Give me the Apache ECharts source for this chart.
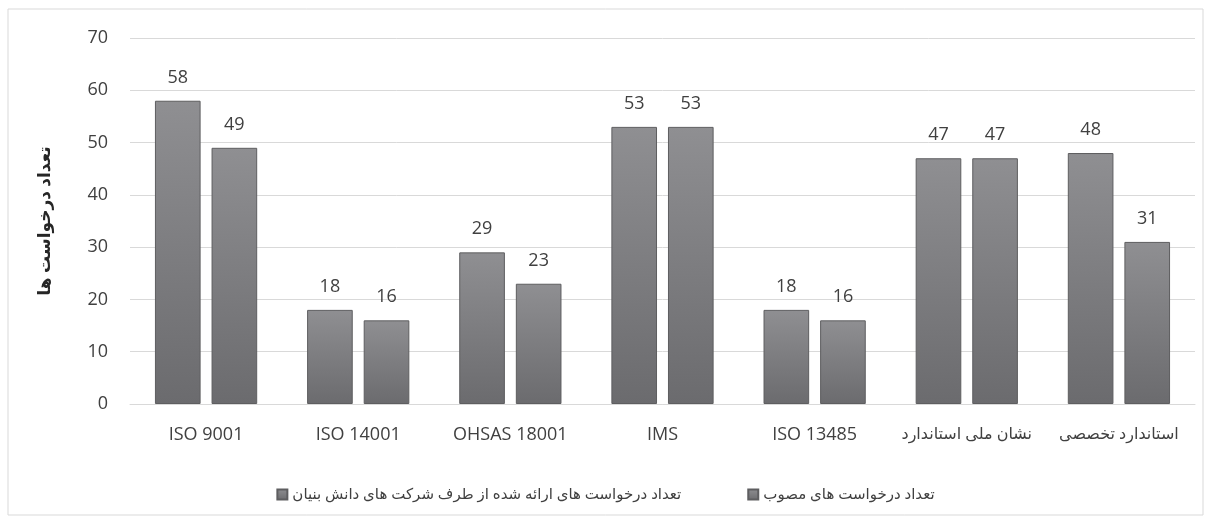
<!DOCTYPE html>
<html>
<head>
<meta charset="utf-8">
<script src="https://cdn.jsdelivr.net/npm/echarts@6/dist/echarts.min.js"></script>
<style>
  html, body { margin: 0; padding: 0; background: #fff; }
  #chart { width: 1211px; height: 522px; }
</style>
</head>
<body>
<div id="chart"></div>
<script>
var categories = ['ISO 9001', 'ISO 14001', 'OHSAS 18001', 'IMS', 'ISO 13485', 'نشان ملی استاندارد', 'استاندارد تخصصی'];
var submitted = [58, 18, 29, 53, 18, 47, 48];
var approved = [49, 16, 23, 53, 16, 47, 31];
var seriesNames = ['تعداد درخواست های ارائه شده از طرف شرکت های دانش بنیان', 'تعداد درخواست های مصوب'];
var yTitle = 'تعداد درخواست ها';

var chart = echarts.init(document.getElementById('chart'));

var font = '"Open Sans", "DejaVu Sans", sans-serif';
var barColor = new echarts.graphic.LinearGradient(0, 0, 0, 1, [
    {offset: 0, color: '#8f8f92'},
    {offset: 1, color: '#6b6b6e'}
]);

function makeSeries(name, data) {
    return {
        name: name,
        type: 'bar',
        data: data,
        barWidth: '30%',
        barGap: '24%',
        itemStyle: {
            color: barColor,
            borderColor: '#5e5e60',
            borderWidth: 1
        },
        label: {
            show: true,
            position: 'top',
            distance: 14,
            color: '#404040',
            fontSize: 18,
            fontFamily: font
        }
    };
}

var option = {
    animation: false,
    textStyle: {fontFamily: font},
    graphic: [{
        type: 'rect',
        shape: {x: 8, y: 9, width: 1195, height: 506},
        style: {fill: 'none', stroke: '#d9d9d9', lineWidth: 1},
        silent: true
    }],
    legend: {
        bottom: 15,
        left: 'center',
        itemWidth: 10,
        itemHeight: 10,
        itemGap: 66,
        icon: 'rect',
        textStyle: {color: '#404040', fontSize: 15, fontFamily: font},
        data: seriesNames
    },
    grid: {left: 130, right: 16, top: 38, bottom: 118},
    xAxis: {
        type: 'category',
        data: categories,
        axisLine: {lineStyle: {color: '#d9d9d9'}},
        axisTick: {show: false},
        axisLabel: {
            interval: 0, color: '#404040', fontSize: 18, margin: 22, fontFamily: font,
            formatter: function (v) {
                // Persian labels are set a bit smaller, like in the original
                return /[\u0600-\u06FF]/.test(v) ? '{fa|' + v + '}' : v;
            },
            rich: {fa: {fontSize: 16, color: '#404040', fontFamily: font}}
        }
    },
    yAxis: {
        type: 'value',
        min: 0,
        max: 70,
        interval: 10,
        name: yTitle,
        nameLocation: 'middle',
        nameGap: 76,
        nameTextStyle: {color: '#262626', fontSize: 17, fontWeight: 'bold', fontFamily: font},
        axisLine: {show: false},
        axisTick: {show: false},
        axisLabel: {color: '#404040', fontSize: 18, margin: 22, fontFamily: font},
        splitLine: {lineStyle: {color: '#d9d9d9'}}
    },
    series: [
        makeSeries(seriesNames[0], submitted),
        makeSeries(seriesNames[1], approved)
    ]
};

chart.setOption(option);
</script>
</body>
</html>
